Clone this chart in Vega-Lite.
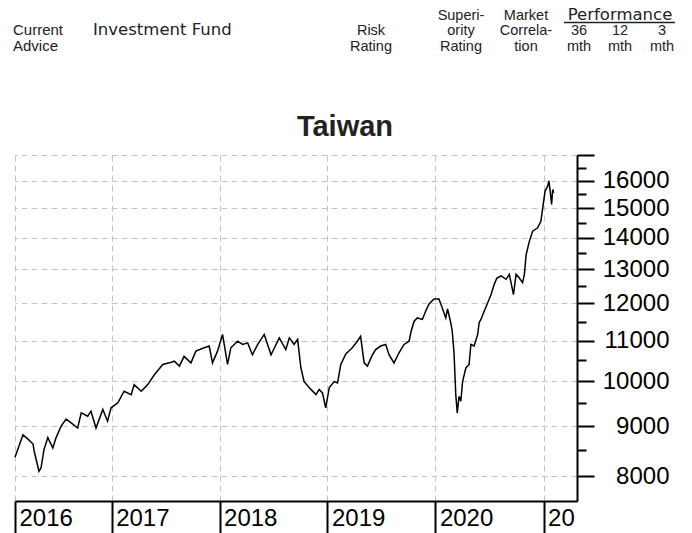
{
  "$schema": "https://vega.github.io/schema/vega-lite/v6.json",
  "background": "white",
  "padding": {"left": 12, "top": 0, "right": 0, "bottom": 0},
  "spacing": 58,
  "config": {"view": {"stroke": null}, "font": "Liberation Sans"},
  "resolve": {"scale": {"x": "independent", "y": "independent"}},
  "vconcat": [
    {
      "width": 662,
      "height": 55,
      "data": {"values": [
        {"c": 0, "r": 2, "t": "Current"},
        {"c": 0, "r": 3, "t": "Advice"},
        {"c": 1, "r": 2, "t": "Investment Fund"},
        {"c": 2, "r": 2, "t": "Risk"},
        {"c": 2, "r": 3, "t": "Rating"},
        {"c": 3, "r": 1, "t": "Superi-"},
        {"c": 3, "r": 2, "t": "ority"},
        {"c": 3, "r": 3, "t": "Rating"},
        {"c": 4, "r": 1, "t": "Market"},
        {"c": 4, "r": 2, "t": "Correla-"},
        {"c": 4, "r": 3, "t": "tion"},
        {"c": 6, "r": 1, "t": "Performance"},
        {"c": 5, "r": 2, "t": "36"},
        {"c": 5, "r": 3, "t": "mth"},
        {"c": 6, "r": 2, "t": "12"},
        {"c": 6, "r": 3, "t": "mth"},
        {"c": 7, "r": 2, "t": "3"},
        {"c": 7, "r": 3, "t": "mth"}
      ]},
      "layer": [
        {"transform": [{"filter": "datum.c == 0"}],
         "mark": {"type": "text", "align": "left", "baseline": "alphabetic", "font": "Liberation Sans", "fontSize": 15, "color": "#222"},
         "encoding": {
           "x": {"field": "c", "type": "quantitative", "axis": null,
                 "scale": {"domain": [0, 1, 2, 3, 4, 5, 6, 7], "range": [-2, 78, 356, 446, 511, 564, 605, 647]}},
           "y": {"field": "r", "type": "quantitative", "axis": null,
                 "scale": {"domain": [1, 3], "range": [19.5, 50.5]}},
           "text": {"field": "t"}
         }},
        {"transform": [{"filter": "datum.c == 1"}],
         "mark": {"type": "text", "align": "left", "baseline": "alphabetic", "font": "DejaVu Sans", "fontSize": 16.5, "color": "#222"},
         "encoding": {
           "x": {"field": "c", "type": "quantitative"},
           "y": {"field": "r", "type": "quantitative"},
           "text": {"field": "t"}
         }},
        {"transform": [{"filter": "datum.c >= 2 && datum.t != 'Performance'"}],
         "mark": {"type": "text", "align": "center", "baseline": "alphabetic", "font": "Liberation Sans", "fontSize": 14.5, "color": "#222"},
         "encoding": {
           "x": {"field": "c", "type": "quantitative"},
           "y": {"field": "r", "type": "quantitative"},
           "text": {"field": "t"}
         }},
        {"transform": [{"filter": "datum.t == 'Performance'"}],
         "mark": {"type": "text", "align": "center", "baseline": "alphabetic", "font": "DejaVu Sans", "fontSize": 16.5, "color": "#222"},
         "encoding": {
           "x": {"field": "c", "type": "quantitative"},
           "y": {"field": "r", "type": "quantitative"},
           "text": {"field": "t"}
         }},
        {"transform": [{"filter": "datum.t == 'Performance'"}],
         "mark": {"type": "rule", "color": "#222", "strokeWidth": 1.3, "xOffset": -15, "x2Offset": 13, "yOffset": 3},
         "encoding": {
           "x": {"datum": 5, "type": "quantitative"},
           "x2": {"datum": 7},
           "y": {"field": "r", "type": "quantitative"}
         }}
      ]
    },
    {
      "width": 562,
      "height": 346,
      "title": {"text": "Taiwan", "fontSize": 29, "fontWeight": "bold", "font": "Liberation Sans", "color": "#222",
                "anchor": "middle", "dx": 49, "offset": -22, "baseline": "alphabetic"},
      "data": {"values": [
        {"date": "2016-02-09", "v": 8366},
        {"date": "2016-03-07", "v": 8820},
        {"date": "2016-03-24", "v": 8730},
        {"date": "2016-04-10", "v": 8630},
        {"date": "2016-04-14", "v": 8485},
        {"date": "2016-04-30", "v": 8095},
        {"date": "2016-05-07", "v": 8157},
        {"date": "2016-05-17", "v": 8515},
        {"date": "2016-05-30", "v": 8760},
        {"date": "2016-06-16", "v": 8550},
        {"date": "2016-06-27", "v": 8760},
        {"date": "2016-07-14", "v": 9000},
        {"date": "2016-07-31", "v": 9150},
        {"date": "2016-08-17", "v": 9070},
        {"date": "2016-09-08", "v": 8960},
        {"date": "2016-09-20", "v": 9285},
        {"date": "2016-10-12", "v": 9210},
        {"date": "2016-10-23", "v": 9320},
        {"date": "2016-11-09", "v": 8960},
        {"date": "2016-12-02", "v": 9360},
        {"date": "2016-12-18", "v": 9105},
        {"date": "2016-12-30", "v": 9395},
        {"date": "2017-01-22", "v": 9505},
        {"date": "2017-02-12", "v": 9768},
        {"date": "2017-03-08", "v": 9690},
        {"date": "2017-03-18", "v": 9920},
        {"date": "2017-04-11", "v": 9768},
        {"date": "2017-05-03", "v": 9920},
        {"date": "2017-05-26", "v": 10157},
        {"date": "2017-06-23", "v": 10400},
        {"date": "2017-07-15", "v": 10440},
        {"date": "2017-08-01", "v": 10480},
        {"date": "2017-08-18", "v": 10360},
        {"date": "2017-09-03", "v": 10600},
        {"date": "2017-09-26", "v": 10440},
        {"date": "2017-10-13", "v": 10730},
        {"date": "2017-11-10", "v": 10815},
        {"date": "2017-11-27", "v": 10860},
        {"date": "2017-12-08", "v": 10440},
        {"date": "2017-12-25", "v": 10730},
        {"date": "2018-01-11", "v": 11160},
        {"date": "2018-01-28", "v": 10400},
        {"date": "2018-02-08", "v": 10815},
        {"date": "2018-03-03", "v": 10984},
        {"date": "2018-03-20", "v": 10900},
        {"date": "2018-04-06", "v": 10940},
        {"date": "2018-04-22", "v": 10640},
        {"date": "2018-05-10", "v": 10900},
        {"date": "2018-06-01", "v": 11160},
        {"date": "2018-06-24", "v": 10640},
        {"date": "2018-07-22", "v": 11070},
        {"date": "2018-08-13", "v": 10770},
        {"date": "2018-08-25", "v": 11070},
        {"date": "2018-09-10", "v": 10900},
        {"date": "2018-09-22", "v": 11030},
        {"date": "2018-10-03", "v": 10315},
        {"date": "2018-10-14", "v": 9990},
        {"date": "2018-11-06", "v": 9810},
        {"date": "2018-11-23", "v": 9690},
        {"date": "2018-12-04", "v": 9810},
        {"date": "2018-12-15", "v": 9730},
        {"date": "2018-12-26", "v": 9395},
        {"date": "2019-01-07", "v": 9850},
        {"date": "2019-01-24", "v": 9990},
        {"date": "2019-02-04", "v": 9960},
        {"date": "2019-02-15", "v": 10400},
        {"date": "2019-03-04", "v": 10660},
        {"date": "2019-03-26", "v": 10815},
        {"date": "2019-04-12", "v": 10984},
        {"date": "2019-04-23", "v": 11110},
        {"date": "2019-05-05", "v": 10440},
        {"date": "2019-05-16", "v": 10360},
        {"date": "2019-06-02", "v": 10640},
        {"date": "2019-06-13", "v": 10770},
        {"date": "2019-06-30", "v": 10860},
        {"date": "2019-07-17", "v": 10900},
        {"date": "2019-07-28", "v": 10640},
        {"date": "2019-08-14", "v": 10440},
        {"date": "2019-08-31", "v": 10690},
        {"date": "2019-09-17", "v": 10900},
        {"date": "2019-10-04", "v": 10984},
        {"date": "2019-10-11", "v": 11244},
        {"date": "2019-10-21", "v": 11511},
        {"date": "2019-11-01", "v": 11600},
        {"date": "2019-11-18", "v": 11560},
        {"date": "2019-11-29", "v": 11785},
        {"date": "2019-12-10", "v": 11980},
        {"date": "2019-12-27", "v": 12130},
        {"date": "2020-01-13", "v": 12130},
        {"date": "2020-01-24", "v": 11880},
        {"date": "2020-02-05", "v": 11600},
        {"date": "2020-02-11", "v": 11850},
        {"date": "2020-02-22", "v": 11470},
        {"date": "2020-02-27", "v": 11244},
        {"date": "2020-03-04", "v": 10690},
        {"date": "2020-03-10", "v": 9690},
        {"date": "2020-03-15", "v": 9285},
        {"date": "2020-03-21", "v": 9650},
        {"date": "2020-03-27", "v": 9542},
        {"date": "2020-04-02", "v": 9990},
        {"date": "2020-04-13", "v": 10315},
        {"date": "2020-04-24", "v": 10400},
        {"date": "2020-04-30", "v": 10900},
        {"date": "2020-05-11", "v": 10860},
        {"date": "2020-05-23", "v": 11160},
        {"date": "2020-05-28", "v": 11470},
        {"date": "2020-06-03", "v": 11560},
        {"date": "2020-06-14", "v": 11785},
        {"date": "2020-06-26", "v": 12020},
        {"date": "2020-07-07", "v": 12250},
        {"date": "2020-07-18", "v": 12550},
        {"date": "2020-07-27", "v": 12740},
        {"date": "2020-08-10", "v": 12800},
        {"date": "2020-08-27", "v": 12700},
        {"date": "2020-09-07", "v": 12850},
        {"date": "2020-09-13", "v": 12600},
        {"date": "2020-09-21", "v": 12250},
        {"date": "2020-09-30", "v": 12850},
        {"date": "2020-10-11", "v": 12740},
        {"date": "2020-10-22", "v": 12600},
        {"date": "2020-10-28", "v": 12850},
        {"date": "2020-11-03", "v": 13460},
        {"date": "2020-11-14", "v": 13890},
        {"date": "2020-11-25", "v": 14220},
        {"date": "2020-12-12", "v": 14330},
        {"date": "2020-12-23", "v": 14557},
        {"date": "2020-12-29", "v": 15010},
        {"date": "2021-01-06", "v": 15620},
        {"date": "2021-01-15", "v": 15810},
        {"date": "2021-01-19", "v": 16000},
        {"date": "2021-01-24", "v": 15555},
        {"date": "2021-01-28", "v": 15140},
        {"date": "2021-02-01", "v": 15680},
        {"date": "2021-02-04", "v": 15555}
      ]},
      "mark": {"type": "line", "color": "black", "strokeWidth": 1.5},
      "encoding": {
        "x": {
          "field": "date", "type": "temporal", "title": null,
          "scale": {"type": "utc",
                    "domain": [{"year": 2016, "month": 2, "date": 9, "utc": true}, {"year": 2021, "month": 4, "date": 24, "utc": true}]},
          "axis": {
            "values": [
              {"year": 2016, "month": 2, "date": 9, "utc": true},
              {"year": 2017, "month": 1, "date": 1, "utc": true},
              {"year": 2018, "month": 1, "date": 1, "utc": true},
              {"year": 2019, "month": 1, "date": 1, "utc": true},
              {"year": 2020, "month": 1, "date": 1, "utc": true},
              {"year": 2021, "month": 1, "date": 1, "utc": true}
            ],
            "labelExpr": "utcyear(datum.value) == 2021 ? '20' : utcFormat(datum.value, '%Y')",
            "domainColor": "black", "domainWidth": 2,
            "tickColor": "black", "tickWidth": 2, "tickSize": 33,
            "labelAlign": "left", "labelBaseline": "alphabetic", "labelPadding": -9, "labelOffset": 4,
            "labelFont": "Liberation Sans", "labelFontSize": 24, "labelColor": "black",
            "labelFlush": false, "labelOverlap": false, "labelBound": false,
            "grid": true, "gridColor": "#c4c4c4", "gridDash": [6, 4], "gridWidth": 1
          }
        },
        "y": {
          "field": "v", "type": "quantitative", "title": null,
          "scale": {"type": "log", "domain": [7550, 17000], "nice": false, "zero": false},
          "axis": {
            "orient": "right",
            "values": [8000, 8500, 9000, 9500, 10000, 10500, 11000, 11500, 12000, 12500, 13000, 13500, 14000, 14500, 15000, 15500, 16000, 16500, 17000],
            "labelExpr": "datum.value % 1000 === 0 && datum.value < 17000 ? format(datum.value, 'd') : ''",
            "domainColor": "black", "domainWidth": 2,
            "tickColor": "black", "tickWidth": 2,
            "tickSize": {"condition": {"test": "datum.value % 1000 === 0", "value": 17}, "value": 9},
            "labelAlign": "right", "labelBaseline": "middle", "labelPadding": 75,
            "labelFont": "Liberation Sans", "labelFontSize": 24, "labelColor": "black",
            "labelOverlap": false, "labelBound": false, "labelFlush": false,
            "grid": true,
            "gridColor": {"condition": {"test": "datum.value % 1000 === 0", "value": "#c4c4c4"}, "value": "transparent"},
            "gridDash": [6, 4], "gridWidth": 1
          }
        }
      }
    }
  ]
}
